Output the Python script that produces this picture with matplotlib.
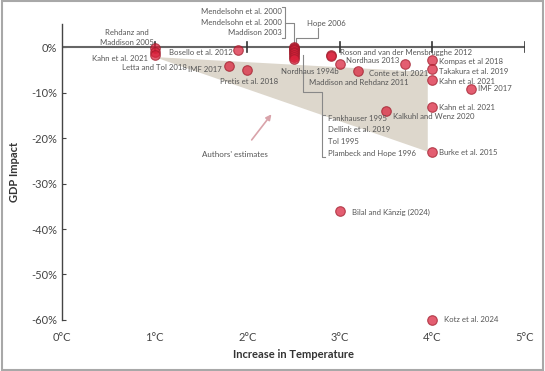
import matplotlib.pyplot as plt
from matplotlib.patches import Rectangle, Polygon

plt.rcParams['font.family'] = ['Lato', 'DejaVu Sans']

# data points (temperature rise in C, GDP impact in %)
temps = [1.0, 1.0, 1.0,
         1.9, 1.8, 2.0,
         2.5, 2.5, 2.5, 2.5, 2.5, 2.5, 2.5, 2.5, 2.5,
         2.9, 2.9, 3.0, 3.2, 3.7,
         4.0, 4.0, 4.0, 4.42, 4.0, 3.5, 4.0, 3.0, 4.0]
impacts = [-0.2, -1.0, -1.8,
           -0.7, -4.2, -5.1,
           0.1, -0.1, -0.4, -0.7, -1.0, -1.4, -1.8, -2.2, -2.6,
           -1.7, -1.9, -3.7, -5.2, -3.8,
           -2.9, -4.9, -7.2, -9.2, -13.2, -14.1, -23.0, -36.0, -60.0]

# point labels: text, x, y, horizontal alignment
labels = [
    ('Rehdanz and\nMaddison 2005', 0.70, 2.0, 'center'),
    ('Kahn et al. 2021', 0.93, -2.6, 'right'),
    ('Letta and Tol 2018', 1.0, -4.6, 'center'),
    ('Bosello et al. 2012', 1.84, -1.3, 'right'),
    ('IMF 2017', 1.72, -5.0, 'right'),
    ('Pretis et al. 2018', 2.02, -7.5, 'center'),
    ('Nordhaus 1994b', 2.68, -5.3, 'center'),
    ('Roson and van der Mensbrugghe 2012', 3.0, -1.3, 'left'),
    ('Nordhaus 2013', 3.07, -2.9, 'left'),
    ('Maddison and Rehdanz 2011', 3.21, -7.7, 'center'),
    ('Conte et al. 2021', 3.96, -5.9, 'right'),
    ('Kompas et al 2018', 4.07, -3.1, 'left'),
    ('Takakura et al. 2019', 4.07, -5.3, 'left'),
    ('Kahn et al. 2021', 4.07, -7.5, 'left'),
    ('IMF 2017', 4.49, -9.2, 'left'),
    ('Kahn et al. 2021', 4.07, -13.2, 'left'),
    ('Kalkuhl and Wenz 2020', 3.57, -15.2, 'left'),
    ('Burke et al. 2015', 4.07, -23.1, 'left'),
    ('Bilal and Känzig (2024)', 3.13, -36.3, 'left'),
    ('Kotz et al. 2024', 4.13, -60.0, 'left'),
    ('Fankhauser 1995', 2.87, -15.6, 'left'),
    ('Dellink et al. 2019', 2.87, -18.2, 'left'),
    ('Tol 1995', 2.87, -20.7, 'left'),
    ('Plambeck and Hope 1996', 2.87, -23.3, 'left'),
    ('Mendelsohn et al. 2000', 2.37, 7.8, 'right'),
    ('Mendelsohn et al. 2000', 2.37, 5.4, 'right'),
    ('Maddison 2003', 2.37, 3.1, 'right'),
    ('Hope 2006', 2.65, 5.1, 'left'),
]

# shaded "authors' estimates" range
band_x = [1.0, 3.95, 3.95]
band_y = [-2.2, -5.5, -23.0]

x_ticks = [0, 1, 2, 3, 4, 5]
x_ticklabels = ['0°C', '1°C', '2°C', '3°C', '4°C', '5°C']
y_ticks = [0, -10, -20, -30, -40, -50, -60]
y_ticklabels = ['0%', '-10%', '-20%', '-30%', '-40%', '-50%', '-60%']

fig = plt.figure(figsize=(5.45, 3.71), dpi=100)
ax = fig.add_axes([0.1138, 0.1375, 0.8495, 0.797])
ax.set_xlim(0, 5)
ax.set_ylim(-60, 5)

line_col = '#666666'
txt_col = '#555555'

ax.add_patch(Polygon(list(zip(band_x, band_y)), closed=True,
                     facecolor='#ddd7cc', edgecolor='none', zorder=1))

# zero line with degree ticks
ax.plot([0, 5], [0, 0], color=line_col, lw=1.5, zorder=2)
for t in x_ticks[1:]:
    ax.plot([t, t], [-1.1, 1.1], color='#333333', lw=1.2, zorder=2)

ax.scatter(temps, impacts, s=48, facecolor='#d9203a', edgecolor='#9e1b2a',
           linewidth=0.8, alpha=0.72, zorder=4, clip_on=False)

for text, lx, ly, ha in labels:
    ax.text(lx, ly, text, ha=ha, va='center', fontsize=5.6, color=txt_col,
            linespacing=1.5, zorder=5)

# leader lines / brackets
lk = dict(color='#888888', lw=0.8, clip_on=False, zorder=3)
ax.plot([2.38, 2.41, 2.41, 2.38], [8.8, 8.8, 2.0, 2.0], **lk)
ax.plot([2.41, 2.505, 2.505], [5.3, 5.3, 0.9], **lk)
ax.plot([2.765, 2.765, 2.527, 2.527], [4.2, 2.0, 2.0, 0.5], **lk)
ax.plot([2.60, 2.60, 2.81, 2.81, 2.84], [-1.8, -9.9, -9.9, -24.2, -24.2], **lk)
ax.plot([2.81, 2.84], [-15.0, -15.0], **lk)

ax.annotate('', xy=(2.28, -14.3), xytext=(2.03, -20.9),
            arrowprops=dict(arrowstyle='-|>', color='#d9a3aa', lw=1.2,
                            mutation_scale=8))
ax.text(1.87, -23.7, "Authors' estimates", ha='center', va='center',
        fontsize=5.8, color=txt_col)

ax.set_xticks(x_ticks)
ax.set_xticklabels(x_ticklabels)
ax.set_yticks(y_ticks)
ax.set_yticklabels(y_ticklabels)
ax.tick_params(axis='x', length=0, pad=9, labelsize=8, labelcolor='#444444')
ax.tick_params(axis='y', direction='in', length=3, color='#444444',
               labelsize=8, labelcolor='#444444')

for s in ['top', 'right', 'bottom']:
    ax.spines[s].set_visible(False)
ax.spines['left'].set_color('#444444')
ax.spines['left'].set_linewidth(1.0)

ax.set_xlabel('Increase in Temperature', fontsize=8, fontweight='bold',
              color='#333333', labelpad=4)
ax.set_ylabel('GDP Impact', fontsize=8, fontweight='bold', color='#333333',
              labelpad=8)

# outer frame
fig.patches.append(Rectangle((0.003, 0.004), 0.994, 0.992, transform=fig.transFigure,
                             fill=False, edgecolor='#a8a8a8', lw=1.5))

fig.savefig('out.png', dpi=100)
